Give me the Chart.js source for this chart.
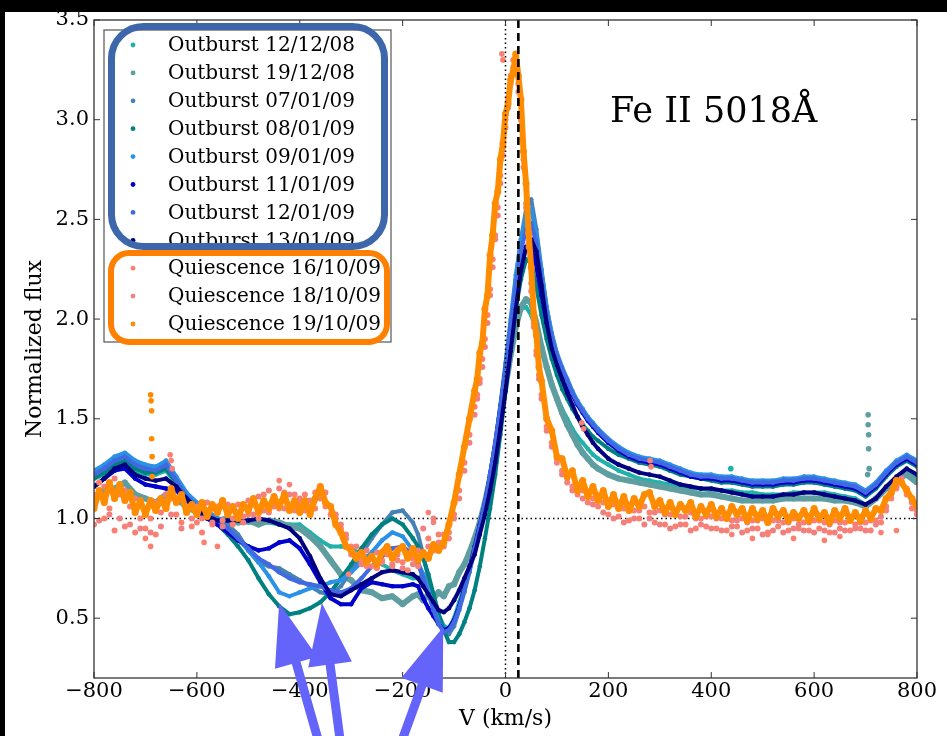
<!DOCTYPE html>
<html lang="en">
<head>
<meta charset="utf-8" />
<title>Fe II 5018 - line profiles</title>
<script src="https://cdn.jsdelivr.net/npm/chart.js"></script>
<style>
  html, body { margin: 0; padding: 0; background: #000; overflow: hidden; }
</style>
</head>
<body>
<canvas id="profileChart" width="947" height="736"></canvas>

<script>
// --- velocity grid for the outburst spectra (km/s) ---
const velocity = [
  -800,-780,-760,-740,-720,-700,-680,-660,-640,-620,
  -600,-580,-560,-540,-520,-500,-480,-460,-440,-420,
  -400,-380,-360,-340,-320,-300,-280,-260,-240,-220,
  -200,-180,-170,-160,-150,-140,-130,-120,-110,-100,
  -90,-80,-70,-60,-50,-40,-30,-20,-10,0,
  10,20,30,40,50,60,70,80,90,100,
  110,120,130,140,150,160,170,180,200,220,
  240,260,280,300,320,340,360,380,400,420,
  440,460,480,500,520,540,560,580,600,620,
  640,660,680,700,720,740,760,780,800
];

// --- outburst fluxes (normalized), same grid ---
const flux121208 = [
  1.20,1.22,1.26,1.28,1.24,1.22,1.22,1.24,1.17,1.10,
  1.05,1.02,1.00,0.99,0.98,0.98,0.98,0.98,0.97,0.97,
  0.97,0.93,0.89,0.86,0.86,0.85,0.82,0.80,0.77,0.74,
  0.72,0.70,0.70,0.72,0.70,0.62,0.52,0.46,0.45,0.50,
  0.58,0.66,0.75,0.85,0.95,1.06,1.18,1.32,1.48,1.66,
  1.84,1.98,2.05,2.06,2.02,1.94,1.85,1.76,1.68,1.61,
  1.55,1.50,1.45,1.41,1.38,1.35,1.32,1.30,1.27,1.24,
  1.22,1.20,1.19,1.18,1.17,1.16,1.15,1.15,1.14,1.14,
  1.14,1.13,1.13,1.12,1.12,1.12,1.13,1.13,1.13,1.13,
  1.12,1.11,1.10,1.07,1.10,1.15,1.20,1.24,1.20
];
const flux191208 = [
  1.10,1.14,1.15,1.18,1.12,1.10,1.08,1.12,1.10,1.06,
  1.03,1.01,0.99,1.00,0.98,0.99,0.97,0.99,0.98,0.96,
  0.95,0.91,0.86,0.79,0.72,0.69,0.64,0.63,0.60,0.61,
  0.57,0.61,0.62,0.59,0.62,0.60,0.63,0.61,0.66,0.67,
  0.73,0.77,0.83,0.90,0.98,1.08,1.20,1.34,1.50,1.66,
  1.82,1.96,2.06,2.10,2.08,1.98,1.86,1.76,1.67,1.60,
  1.53,1.47,1.42,1.37,1.33,1.30,1.27,1.25,1.22,1.20,
  1.19,1.18,1.17,1.16,1.15,1.14,1.13,1.12,1.12,1.11,
  1.10,1.09,1.09,1.09,1.09,1.10,1.10,1.10,1.10,1.10,
  1.09,1.09,1.08,1.06,1.10,1.15,1.20,1.22,1.18
];
const flux070109 = [
  1.23,1.26,1.30,1.32,1.28,1.26,1.25,1.28,1.20,1.12,
  1.07,1.03,1.00,0.97,0.92,0.84,0.78,0.76,0.75,0.72,
  0.69,0.66,0.63,0.62,0.66,0.74,0.82,0.90,0.97,1.03,
  1.04,0.98,0.92,0.82,0.70,0.58,0.48,0.43,0.42,0.46,
  0.54,0.63,0.73,0.84,0.95,1.06,1.20,1.36,1.55,1.76,
  1.98,2.20,2.40,2.55,2.60,2.45,2.25,2.06,1.92,1.82,
  1.74,1.68,1.63,1.58,1.54,1.50,1.47,1.44,1.38,1.35,
  1.32,1.30,1.29,1.28,1.26,1.24,1.22,1.21,1.21,1.20,
  1.20,1.19,1.18,1.18,1.18,1.19,1.19,1.20,1.20,1.19,
  1.18,1.17,1.16,1.13,1.17,1.23,1.28,1.31,1.28
];
const flux080109 = [
  1.20,1.23,1.27,1.29,1.25,1.23,1.23,1.25,1.18,1.10,
  1.05,1.00,0.97,0.92,0.86,0.79,0.70,0.62,0.56,0.52,
  0.53,0.55,0.58,0.63,0.70,0.77,0.85,0.92,0.97,1.00,
  0.97,0.90,0.86,0.80,0.72,0.62,0.52,0.44,0.38,0.38,
  0.42,0.48,0.55,0.64,0.76,0.90,1.05,1.22,1.42,1.64,
  1.86,2.05,2.20,2.30,2.28,2.16,2.02,1.90,1.80,1.72,
  1.65,1.60,1.55,1.51,1.47,1.44,1.41,1.39,1.35,1.32,
  1.30,1.28,1.27,1.26,1.24,1.22,1.21,1.20,1.19,1.18,
  1.18,1.17,1.16,1.16,1.16,1.17,1.17,1.18,1.18,1.17,
  1.16,1.15,1.14,1.11,1.15,1.21,1.26,1.29,1.26
];
const flux090109 = [
  1.24,1.27,1.31,1.33,1.29,1.27,1.26,1.29,1.21,1.13,
  1.08,1.04,1.00,0.95,0.90,0.84,0.78,0.71,0.63,0.61,
  0.63,0.65,0.66,0.68,0.69,0.73,0.78,0.83,0.89,0.93,
  0.91,0.84,0.78,0.72,0.64,0.56,0.48,0.44,0.44,0.48,
  0.55,0.64,0.74,0.85,0.96,1.08,1.22,1.38,1.57,1.78,
  2.00,2.22,2.40,2.52,2.55,2.42,2.24,2.06,1.93,1.83,
  1.76,1.70,1.64,1.59,1.55,1.51,1.48,1.45,1.40,1.36,
  1.33,1.31,1.30,1.29,1.27,1.25,1.23,1.22,1.22,1.21,
  1.21,1.20,1.19,1.19,1.19,1.20,1.20,1.21,1.21,1.20,
  1.19,1.18,1.17,1.14,1.18,1.24,1.29,1.32,1.29
];
const flux110109 = [
  1.16,1.20,1.24,1.25,1.20,1.17,1.16,1.15,1.14,1.09,
  1.04,1.00,0.97,0.93,0.89,0.86,0.84,0.85,0.88,0.89,
  0.85,0.77,0.68,0.60,0.57,0.57,0.65,0.68,0.67,0.66,
  0.66,0.67,0.66,0.60,0.55,0.51,0.47,0.44,0.45,0.49,
  0.56,0.65,0.75,0.86,0.97,1.08,1.22,1.38,1.56,1.75,
  1.95,2.13,2.28,2.36,2.36,2.26,2.12,1.98,1.88,1.80,
  1.73,1.67,1.62,1.57,1.53,1.49,1.46,1.43,1.38,1.34,
  1.31,1.29,1.28,1.27,1.25,1.23,1.21,1.20,1.20,1.19,
  1.19,1.18,1.17,1.17,1.17,1.18,1.18,1.19,1.19,1.18,
  1.17,1.16,1.15,1.12,1.16,1.22,1.27,1.30,1.27
];
const flux120109 = [
  1.22,1.25,1.29,1.31,1.27,1.25,1.24,1.27,1.19,1.11,
  1.06,1.02,0.99,0.95,0.90,0.85,0.80,0.77,0.73,0.70,
  0.68,0.67,0.66,0.64,0.63,0.65,0.70,0.76,0.81,0.85,
  0.86,0.82,0.77,0.70,0.62,0.54,0.47,0.43,0.44,0.48,
  0.55,0.64,0.74,0.85,0.96,1.08,1.22,1.38,1.56,1.76,
  1.97,2.17,2.34,2.45,2.48,2.38,2.20,2.03,1.91,1.82,
  1.75,1.69,1.63,1.58,1.54,1.50,1.47,1.44,1.39,1.35,
  1.32,1.30,1.29,1.28,1.26,1.24,1.22,1.21,1.21,1.20,
  1.20,1.19,1.18,1.18,1.18,1.19,1.19,1.20,1.20,1.19,
  1.18,1.17,1.16,1.13,1.17,1.23,1.28,1.31,1.28
];
const flux130109 = [
  1.16,1.20,1.25,1.27,1.22,1.20,1.19,1.20,1.16,1.10,
  1.05,1.01,0.99,0.99,0.99,0.99,1.00,0.99,0.97,0.95,
  0.90,0.81,0.70,0.62,0.61,0.64,0.67,0.70,0.73,0.74,
  0.73,0.72,0.70,0.66,0.62,0.58,0.54,0.53,0.55,0.59,
  0.64,0.70,0.76,0.82,0.92,1.02,1.14,1.28,1.45,1.64,
  1.84,2.05,2.24,2.36,2.40,2.34,2.17,1.98,1.85,1.77,
  1.70,1.63,1.57,1.51,1.46,1.42,1.38,1.35,1.30,1.27,
  1.25,1.23,1.22,1.21,1.19,1.17,1.16,1.15,1.15,1.14,
  1.13,1.12,1.11,1.11,1.11,1.12,1.12,1.13,1.13,1.12,
  1.11,1.10,1.09,1.07,1.10,1.16,1.21,1.25,1.22
];

// --- velocity grid for the quiescence spectra (km/s) ---
const velocityQ = [
  -800,-790,-780,-770,-760,-750,-740,-730,-720,-710,
  -700,-690,-680,-670,-660,-650,-640,-630,-620,-610,
  -600,-590,-580,-570,-560,-550,-540,-530,-520,-510,
  -500,-490,-480,-470,-460,-450,-440,-430,-420,-410,
  -400,-390,-380,-370,-360,-350,-340,-330,-320,-310,
  -300,-290,-280,-270,-260,-250,-240,-230,-220,-210,
  -200,-190,-180,-170,-160,-150,-140,-130,-120,-110,
  -100,-90,-80,-70,-60,
  -55,-50,-45,-40,-35,-30,-25,-20,-15,-10,
  -5,0,5,10,15,20,25,30,35,40,
  45,50,55,60,65,70,
  80,90,100,110,120,130,140,150,160,170,
  180,190,200,210,220,230,240,250,260,270,
  280,290,300,310,320,330,340,350,360,370,
  380,390,400,410,420,430,440,450,460,470,
  480,490,500,510,520,530,540,550,560,570,
  580,590,600,610,620,630,640,650,660,670,
  680,690,700,710,720,730,740,750,760,770,
  780,790,800
];

const flux161009 = [
  0.97,1.18,1.00,1.05,0.94,1.12,0.96,1.06,0.93,1.00,
  0.95,1.00,0.92,1.03,1.08,1.10,1.02,0.98,1.04,0.96,
  0.98,0.93,1.04,0.97,1.06,0.99,1.03,0.97,1.07,1.01,
  1.02,1.07,1.00,1.12,1.03,1.10,1.05,1.13,1.07,1.12,
  1.08,1.12,1.06,1.13,1.12,1.06,1.02,1.00,0.95,0.92,
  0.86,0.82,0.79,0.76,0.80,0.75,0.78,0.82,0.76,0.79,
  0.78,0.74,0.80,0.76,0.82,0.90,0.84,0.92,0.86,0.93,
  1.02,1.14,1.28,1.42,1.56,
  1.62,1.70,1.80,1.90,2.02,2.15,2.30,2.42,2.56,2.72,
  2.86,3.00,3.10,3.22,3.30,3.28,3.18,3.00,2.80,2.58,
  2.38,2.18,1.98,1.84,1.72,1.62,
  1.46,1.38,1.28,1.24,1.18,1.16,1.12,1.14,1.08,1.10,
  1.06,1.08,1.02,1.07,1.01,1.05,0.99,1.04,1.00,1.06,
  1.03,0.98,1.04,0.97,1.02,0.96,1.01,0.97,1.03,0.95,
  1.00,0.96,1.01,0.95,1.00,0.94,0.99,0.96,1.00,0.94,
  0.99,0.95,1.00,0.93,0.99,0.96,0.98,0.94,1.00,0.95,
  0.98,0.94,0.99,0.95,0.98,0.93,0.99,0.95,0.98,0.94,
  0.97,0.95,0.98,0.94,0.99,0.98,1.04,1.10,1.15,1.18,
  1.12,1.05,1.02
];
const flux181009 = [
  1.12,0.99,1.16,1.02,1.20,1.00,1.14,0.97,1.10,0.95,
  1.04,0.93,1.08,0.96,1.12,1.02,1.10,0.95,1.06,1.00,
  1.06,1.00,1.08,0.98,1.04,0.96,1.07,1.00,1.03,0.98,
  1.09,1.02,1.11,1.04,1.14,1.06,1.15,1.05,1.12,1.04,
  1.10,1.04,1.09,1.05,1.10,1.13,1.06,1.02,0.97,0.90,
  0.82,0.86,0.77,0.84,0.76,0.83,0.79,0.84,0.77,0.82,
  0.75,0.82,0.77,0.84,0.95,0.86,1.00,0.88,0.92,0.90,
  1.00,1.10,1.24,1.38,1.52,
  1.60,1.68,1.76,1.86,1.98,2.12,2.26,2.40,2.52,2.68,
  2.82,2.96,3.06,3.18,3.26,3.24,3.14,2.96,2.76,2.56,
  2.36,2.14,1.96,1.82,1.70,1.60,
  1.44,1.36,1.30,1.22,1.20,1.14,1.16,1.10,1.12,1.07,
  1.10,1.03,1.08,1.00,1.06,0.98,1.05,1.00,1.04,0.97,
  1.00,1.03,0.97,1.02,0.95,1.03,0.97,1.01,0.94,1.00,
  0.97,1.01,0.95,1.00,0.94,1.00,0.96,0.99,0.93,0.98,
  0.95,0.99,0.92,0.98,0.94,0.99,0.93,0.98,0.95,0.97,
  0.94,0.98,0.93,0.99,0.94,0.97,0.93,0.98,0.94,0.99,
  0.95,0.98,0.94,0.99,0.97,1.01,1.06,1.12,1.16,1.20,
  1.15,1.08,1.04
];
const flux191009 = [
  1.05,1.14,1.08,1.18,1.10,1.17,1.09,1.13,1.03,1.09,
  1.02,1.09,1.04,1.10,1.05,1.15,1.08,1.12,1.03,1.07,
  1.02,1.08,1.01,1.07,1.03,1.09,1.02,1.06,1.00,1.07,
  1.04,1.10,1.03,1.09,1.05,1.11,1.06,1.12,1.04,1.09,
  1.03,1.09,1.02,1.10,1.16,1.08,1.06,0.97,0.93,0.86,
  0.84,0.80,0.83,0.78,0.81,0.77,0.83,0.86,0.80,0.84,
  0.86,0.80,0.85,0.79,0.83,0.80,0.87,0.84,0.88,0.97,
  1.08,1.22,1.36,1.50,1.64,
  1.70,1.83,1.88,2.05,2.12,2.32,2.42,2.58,2.64,2.80,
  2.88,3.03,3.08,3.20,3.24,3.33,3.22,3.10,2.84,2.68,
  2.43,2.26,2.02,1.92,1.76,1.69,
  1.50,1.44,1.31,1.30,1.21,1.24,1.14,1.19,1.11,1.16,
  1.09,1.14,1.06,1.12,1.05,1.11,1.04,1.10,1.06,1.12,
  1.13,1.06,1.09,1.03,1.08,1.02,1.07,1.04,1.08,1.01,
  1.06,1.02,1.07,1.01,1.05,1.00,1.06,1.02,1.05,0.99,
  1.05,1.00,1.04,0.98,1.05,1.01,1.04,0.99,1.03,1.00,
  1.04,0.99,1.05,1.00,1.03,0.98,1.04,1.00,1.05,0.99,
  1.03,0.99,1.04,1.00,1.05,1.04,1.10,1.13,1.19,1.18,
  1.14,1.10,1.06
];

// --- isolated points (spikes / stray points) ---
const spikeOrangeV = [-690,-689,-688,-688,-687,-687];
const spikeOrangeF = [1.62,1.59,1.54,1.40,1.31,1.21];
const spikeCadetV = [705,705,706,706,707,704];
const spikeCadetF = [1.52,1.47,1.42,1.35,1.25,1.22];
const spikeCyanV = [438];
const spikeCyanF = [1.25];
const strayPinkV = [-652,-650,-648,-690,-700,-586,-560,-440,-420,-305,-150,-140,-7,-5,148,152,281,283,440,480,510,560,620,650,730,760];
const strayPinkF = [1.32,1.29,1.25,0.86,0.90,0.88,0.86,1.19,1.17,0.72,1.03,0.98,3.33,3.30,1.48,1.45,1.29,1.26,0.92,0.90,0.92,0.90,0.89,0.91,0.93,0.94];

// --- labels & colours ---
const seriesLabels = [
  'Outburst 12/12/08','Outburst 19/12/08','Outburst 07/01/09','Outburst 08/01/09',
  'Outburst 09/01/09','Outburst 11/01/09','Outburst 12/01/09','Outburst 13/01/09',
  'Quiescence 16/10/09','Quiescence 18/10/09','Quiescence 19/10/09'
];
const seriesColors = [
  '#20b2aa','#5f9ea0','#4682b4','#008080','#2b91e6','#0000cd','#4169e1','#000080',
  '#fa8072','#f08080','#ff8c00'
];
const xTicks = [-800,-600,-400,-200,0,200,400,600,800];
const yTicks = [0.5,1.0,1.5,2.0,2.5,3.0,3.5];

// annotation arrows (data coordinates, tail -> tip)
const arrowTailV = [-361,-320,-205];
const arrowTailF = [-0.14,-0.14,-0.14];
const arrowTipV = [-440,-357,-121];
const arrowTipF = [0.576,0.576,0.456];

const restVelocity = 25;   // dashed line

// --- build datasets ---
function pts(vs, fs) { return vs.map((v, i) => ({ x: v, y: fs[i] })); }

const outFluxes = [flux121208, flux191208, flux070109, flux080109, flux090109, flux110109, flux120109, flux130109];
const quiFluxes = [flux161009, flux181009, flux191009];

const datasets = [];
outFluxes.forEach((f, i) => {
  datasets.push({
    label: seriesLabels[i], data: pts(velocity, f),
    borderColor: seriesColors[i], backgroundColor: seriesColors[i],
    showLine: true, borderWidth: i === 1 ? 6 : 4, pointRadius: i === 1 ? 3 : 2.3,
    borderJoinStyle: 'round', pointBorderWidth: 0, order: -i
  });
});
quiFluxes.forEach((f, j) => {
  const i = 8 + j;
  const isOrange = j === 2;
  datasets.push({
    label: seriesLabels[i], data: pts(velocityQ, f),
    borderColor: seriesColors[i], backgroundColor: seriesColors[i],
    showLine: isOrange, borderWidth: isOrange ? 6 : 0, pointRadius: isOrange ? 3.5 : 3,
    borderJoinStyle: 'round', pointBorderWidth: 0, order: -i
  });
});
// extras (not in legend)
[[spikeCyanV, spikeCyanF, 0], [spikeCadetV, spikeCadetF, 1], [strayPinkV, strayPinkF, 8], [spikeOrangeV, spikeOrangeF, 10]]
  .forEach(([vs, fs, c]) => {
    datasets.push({
      label: '_extra', data: pts(vs, fs), showLine: false,
      backgroundColor: seriesColors[c], borderColor: seriesColors[c],
      pointRadius: 2.8, pointBorderWidth: 0, order: -c
    });
  });

// --- decorations plugin ---
function roundedRect(ctx, x, y, w, h, r) {
  ctx.beginPath();
  ctx.moveTo(x + r, y);
  ctx.lineTo(x + w - r, y);
  ctx.arcTo(x + w, y, x + w, y + r, r);
  ctx.lineTo(x + w, y + h - r);
  ctx.arcTo(x + w, y + h, x + w - r, y + h, r);
  ctx.lineTo(x + r, y + h);
  ctx.arcTo(x, y + h, x, y + h - r, r);
  ctx.lineTo(x, y + r);
  ctx.arcTo(x, y, x + r, y, r);
  ctx.closePath();
}

function drawArrow(ctx, x0, y0, x1, y1) {
  const sw = 9, hl = 62, hw = 44;
  const ang = Math.atan2(y1 - y0, x1 - x0);
  const len = Math.hypot(x1 - x0, y1 - y0);
  ctx.save();
  ctx.translate(x0, y0);
  ctx.rotate(ang);
  ctx.beginPath();
  ctx.moveTo(0, -sw / 2);
  ctx.lineTo(len - hl, -sw / 2);
  ctx.lineTo(len - hl, -hw / 2);
  ctx.lineTo(len, 0);
  ctx.lineTo(len - hl, hw / 2);
  ctx.lineTo(len - hl, sw / 2);
  ctx.lineTo(0, sw / 2);
  ctx.closePath();
  ctx.fill();
  ctx.restore();
}

const decor = {
  id: 'decor',
  beforeDraw(chart) {
    const ctx = chart.ctx;
    ctx.save();
    ctx.fillStyle = '#fff';
    ctx.fillRect(0, 0, chart.width, chart.height);
    ctx.restore();
  },
  beforeDatasetsDraw(chart) {
    const { ctx, chartArea: a, scales: { y } } = chart;
    const py = y.getPixelForValue(1);
    ctx.save();
    ctx.strokeStyle = '#000';
    ctx.lineWidth = 1.5;
    ctx.setLineDash([1.5, 3]);
    ctx.beginPath(); ctx.moveTo(a.left, py); ctx.lineTo(a.right, py); ctx.stroke();
    ctx.restore();
  },
  afterDatasetsDraw(chart) {
    const { ctx, chartArea: a, scales: { x, y } } = chart;
    ctx.save();
    // vertical dotted (v = 0) and dashed (rest velocity)
    ctx.strokeStyle = '#000';
    ctx.lineWidth = 1.5;
    ctx.setLineDash([1.5, 3]);
    let px = x.getPixelForValue(0);
    ctx.beginPath(); ctx.moveTo(px, a.top); ctx.lineTo(px, a.bottom); ctx.stroke();
    ctx.lineWidth = 2.6;
    ctx.setLineDash([8, 5]);
    px = x.getPixelForValue(restVelocity);
    ctx.beginPath(); ctx.moveTo(px, a.top); ctx.lineTo(px, a.bottom); ctx.stroke();
    ctx.setLineDash([]);
    // frame
    ctx.strokeStyle = '#333';
    ctx.lineWidth = 1.3;
    ctx.strokeRect(a.left, a.top, a.right - a.left, a.bottom - a.top);
    // inward ticks on all sides
    ctx.lineWidth = 1;
    ctx.beginPath();
    xTicks.forEach(v => {
      const p = x.getPixelForValue(v);
      ctx.moveTo(p, a.bottom); ctx.lineTo(p, a.bottom - 6);
      ctx.moveTo(p, a.top); ctx.lineTo(p, a.top + 6);
    });
    yTicks.forEach(v => {
      const p = y.getPixelForValue(v);
      ctx.moveTo(a.left, p); ctx.lineTo(a.left + 6, p);
      ctx.moveTo(a.right, p); ctx.lineTo(a.right - 6, p);
    });
    ctx.stroke();
    ctx.restore();
  },
  afterDraw(chart) {
    const { ctx, scales: { x, y } } = chart;
    ctx.save();
    // legend
    const L = { left: 104, top: 30, right: 391, bottom: 342, row0: 45, step: 27.9, dotX: 133, textX: 168 };
    ctx.fillStyle = '#fff';
    ctx.fillRect(L.left, L.top, L.right - L.left, L.bottom - L.top);
    ctx.strokeStyle = '#555';
    ctx.lineWidth = 1.2;
    ctx.strokeRect(L.left, L.top, L.right - L.left, L.bottom - L.top);
    ctx.font = '20px "DejaVu Serif"';
    ctx.textBaseline = 'middle';
    ctx.textAlign = 'left';
    seriesLabels.forEach((lab, i) => {
      const cy = L.row0 + i * L.step;
      ctx.fillStyle = seriesColors[i];
      ctx.beginPath(); ctx.arc(L.dotX, cy, 2.4, 0, Math.PI * 2); ctx.fill();
      ctx.fillStyle = '#000';
      ctx.fillText(lab, L.textX, cy + 1);
    });
    // line name
    ctx.font = '35px "DejaVu Serif"';
    ctx.textBaseline = 'alphabetic';
    ctx.fillStyle = '#000';
    ctx.fillText('Fe II 5018\u00C5', x.getPixelForValue(203), y.getPixelForValue(2.99));
    // grouping boxes
    ctx.lineWidth = 7;
    ctx.strokeStyle = '#3d67aa';
    roundedRect(ctx, 111.5, 26.5, 273, 220, 32);
    ctx.stroke();
    ctx.lineWidth = 6;
    ctx.strokeStyle = '#ff8000';
    roundedRect(ctx, 111, 253, 276, 89, 18);
    ctx.stroke();
    // black border of the original figure
    ctx.fillStyle = '#000';
    ctx.fillRect(0, 0, chart.width, 12);
    ctx.fillRect(0, 0, 5, chart.height);
    // arrows
    ctx.fillStyle = '#6464fa';
    arrowTipV.forEach((v, i) => {
      drawArrow(ctx,
        x.getPixelForValue(arrowTailV[i]), y.getPixelForValue(arrowTailF[i]),
        x.getPixelForValue(v), y.getPixelForValue(arrowTipF[i]));
    });
    ctx.restore();
  }
};

Chart.defaults.font.family = '"DejaVu Serif", serif';
Chart.defaults.color = '#000';

new Chart(document.getElementById('profileChart').getContext('2d'), {
  type: 'scatter',
  data: { datasets: datasets },
  options: {
    responsive: false,
    animation: false,
    devicePixelRatio: 1,
    events: [],
    layout: { padding: { left: 5, top: 20, right: 30, bottom: 0 } },
    plugins: { legend: { display: false }, tooltip: { enabled: false } },
    scales: {
      x: {
        type: 'linear', min: -800, max: 800,
        afterBuildTicks(s) { s.ticks = xTicks.map(v => ({ value: v })); },
        afterFit(s) { s.height = 58; },
        grid: { display: false, drawTicks: false },
        border: { display: false },
        ticks: {
          padding: 1, font: { size: 21 }, color: '#000', maxRotation: 0, autoSkip: false,
          callback: v => v < 0 ? '\u2212' + Math.abs(v) : String(v)
        },
        title: { display: true, text: 'V (km/s)', font: { size: 22 }, color: '#000', padding: { top: 0, bottom: 4 } }
      },
      y: {
        type: 'linear', min: 0.2, max: 3.5,
        afterBuildTicks(s) { s.ticks = yTicks.map(v => ({ value: v })); },
        afterFit(s) { s.width = 89; },
        grid: { display: false, drawTicks: false },
        border: { display: false },
        ticks: { padding: 5, font: { size: 21 }, color: '#000', autoSkip: false, callback: v => v.toFixed(1) },
        title: { display: true, text: 'Normalized flux', font: { size: 22 }, color: '#000', padding: { top: 17, bottom: 0 } }
      }
    }
  },
  plugins: [decor]
});
</script>
</body>
</html>
